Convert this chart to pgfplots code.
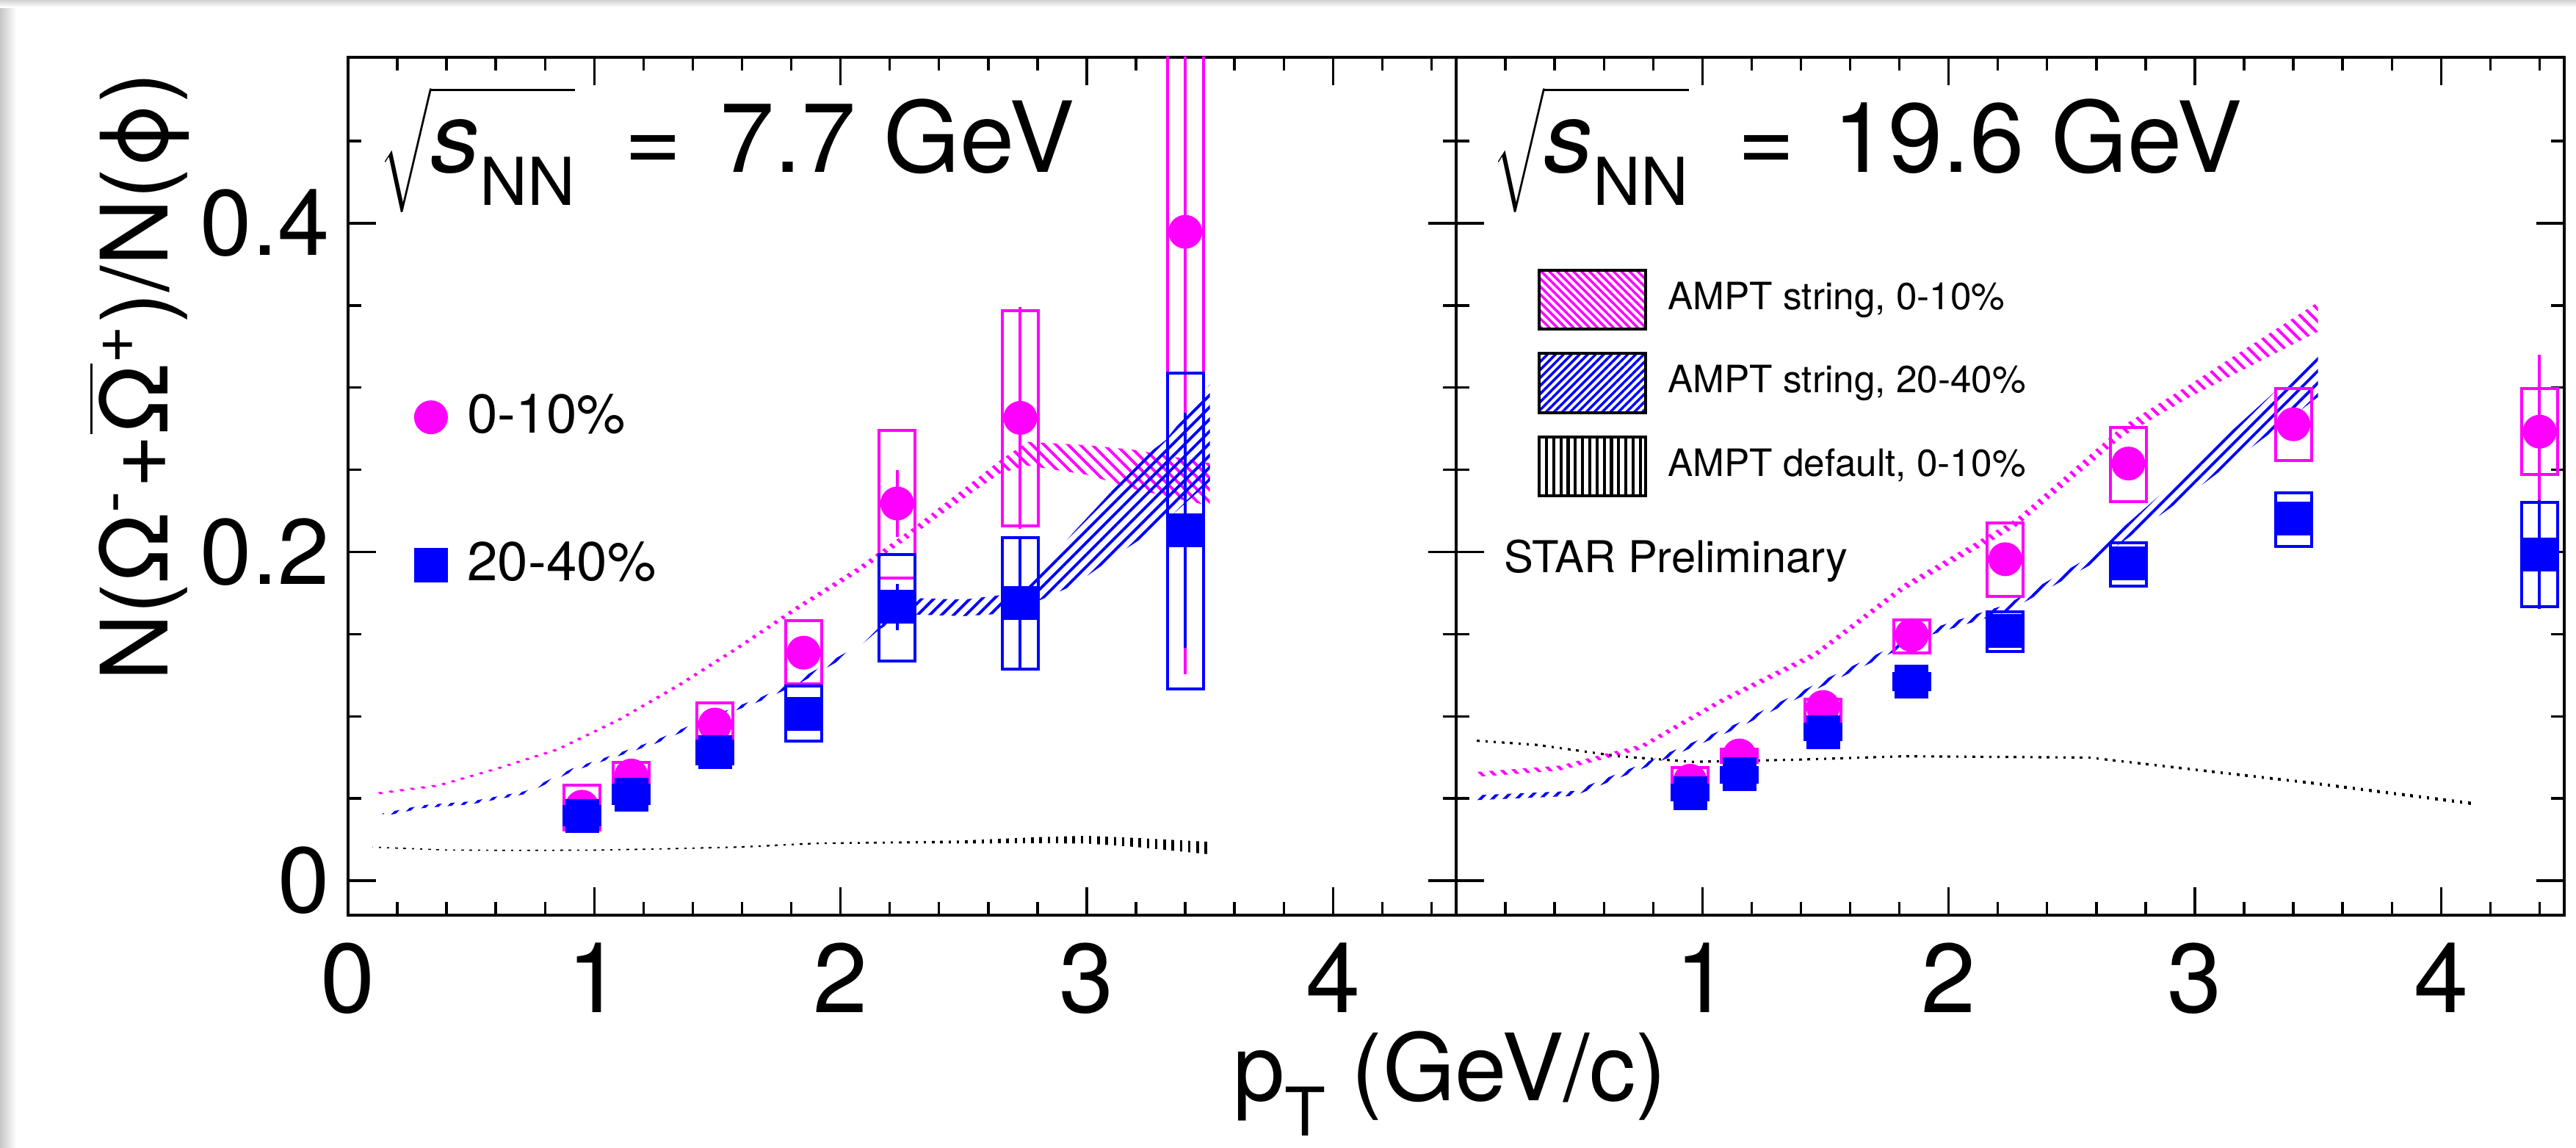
\documentclass[border=0pt]{standalone}
\usepackage{fix-cm}
\usepackage{fontspec}
\setmainfont{TeX Gyre Heros}
\usepackage{pgfplots}
\pgfplotsset{compat=1.18}
\usepgfplotslibrary{fillbetween}
\usetikzlibrary{patterns.meta}
\definecolor{mag}{RGB}{255,0,255}
\definecolor{blu}{RGB}{0,0,255}
\tikzset{
  hatchM/.style={pattern={Lines[angle=-45,distance=1.65pt,line width=0.55pt]},pattern color=mag},
  hatchB/.style={pattern={Lines[angle=45,distance=1.65pt,line width=0.55pt]},pattern color=blu},
  hatchK/.style={pattern={Lines[angle=90,distance=1.6pt,line width=0.5pt]},pattern color=black},
}
\newcommand{\sqrts}{$\sqrt{\mbox{\vphantom{N}\textit{s}\raisebox{-2.25mm}{\fontsize{12.8}{13}\selectfont NN}}}$}
\pgfplotsset{
  panel/.style={
    scale only axis, width=75.45mm, height=58.4mm,
    xmin=0, xmax=4.5, ymin=-0.021, ymax=0.501,
    axis line style={line width=0.2mm},
    tick align=inside, tick pos=both,
    major tick length=1.9mm, minor tick length=0.9mm,
    every tick/.append style={line width=0.17mm, black},
    xtick={0,1,2,3,4},
    minor xtick={0.2,0.4,0.6,0.8,1.2,1.4,1.6,1.8,2.2,2.4,2.6,2.8,3.2,3.4,3.6,3.8,4.2,4.4},
    ytick={0,0.2,0.4},
    minor ytick={0.05,0.1,0.15,0.25,0.3,0.35,0.45},
    /pgf/number format/assume math mode=true,
    xticklabel style={font=\fontsize{19}{19}\selectfont, inner sep=0pt, anchor=north},
    xticklabel shift=1.8mm,
    yticklabel style={font=\fontsize{18}{18}\selectfont, inner sep=0pt, anchor=east,
      /pgf/number format/fixed, /pgf/number format/precision=1},
    yticklabel shift=1.2mm,
    unbounded coords=jump,
  },
  sysbox/.style={line width=0.2mm, line join=miter, forget plot},
  pts/.style={only marks, mark size=1.08mm, forget plot,
    error bars/y dir=both, error bars/y explicit, error bars/error mark=none,
    error bars/error bar style={line width=0.2mm}},
}
\begin{document}
\begin{tikzpicture}
\shade[left color=gray!45, right color=white] (-23.7mm,-15.8mm) rectangle (-22.6mm,62.3mm);
\shade[top color=gray!35, bottom color=white] (-23.7mm,61.8mm) rectangle (151.7mm,62.3mm);

% ---------------- LEFT PANEL: 7.7 GeV ----------------
\begin{axis}[panel, at={(0,0)}, anchor=south west,
  xticklabels={0,1,2,3,4},
  ylabel={N(Ω\textsuperscript{-}+$\overline{\mbox{Ω}}$\textsuperscript{+})/N(ϕ)},
  every axis y label/.style={at={(axis description cs:-0.1629,0.9837)}, anchor=base east,
    rotate=90, inner sep=0pt, font=\fontsize{18}{18}\selectfont},
  xlabel={p\raisebox{-2.4mm}{\fontsize{13}{13}\selectfont T} (GeV/c)},
  every axis x label/.style={at={(axis description cs:0.798,-0.2158)}, anchor=base west,
    inner sep=0pt, font=\fontsize{18}{18}\selectfont},
  legend style={at={(axis description cs:0.0596,0.6087)}, anchor=north west, draw=none, fill=none,
    inner sep=0pt, row sep=6.9mm, column sep=1.4mm, font=\fontsize{10.6}{12}\selectfont,
    nodes={inner sep=0pt}},
  legend cell align=left,
  legend image code/.code={\draw[#1] plot coordinates {(0mm,0mm)};},
]
% AMPT string 0-10%
\addplot[name path=mlo, draw=none, forget plot] coordinates {
(0.11,0.0522)(0.37,0.0573)(0.61,0.0677)(0.85,0.0790)(1.10,0.0970)(1.34,0.1175)(1.58,0.1402)
(1.83,0.1650)(2.07,0.1872)(2.29,0.2098)(2.50,0.2325)(2.65,0.2480)(2.76,0.2526)(3.00,0.2470)(3.20,0.2380)(3.50,0.2280)};
\addplot[name path=mhi, draw=none, forget plot] coordinates {
(0.11,0.0536)(0.37,0.0587)(0.61,0.0691)(0.85,0.0806)(1.10,0.0988)(1.34,0.1197)(1.58,0.1426)
(1.83,0.1680)(2.07,0.1908)(2.29,0.2142)(2.50,0.2385)(2.65,0.2560)(2.76,0.2670)(3.00,0.2650)(3.20,0.2620)(3.50,0.2540)};
\addplot[hatchM, draw=none, forget plot] fill between[of=mlo and mhi];
% AMPT string 20-40%
\addplot[name path=blo, draw=none, forget plot] coordinates {
(0.14,0.0391)(0.30,0.0441)(0.50,0.0465)(0.72,0.0527)(0.91,0.0664)(1.07,0.0744)(1.25,0.0835)
(1.46,0.0971)(1.68,0.1096)(1.83,0.1198)(2.04,0.1378)(2.16,0.1532)(2.29,0.1620)(2.50,0.1610)
(2.72,0.1630)(2.77,0.1680)(2.95,0.1800)(3.12,0.1980)(3.25,0.2110)(3.32,0.2190)(3.50,0.2430)};
\addplot[name path=bhi, draw=none, forget plot] coordinates {
(0.14,0.0409)(0.30,0.0459)(0.50,0.0483)(0.72,0.0545)(0.91,0.0682)(1.07,0.0762)(1.25,0.0855)
(1.46,0.0991)(1.68,0.1118)(1.83,0.1224)(2.04,0.1404)(2.16,0.1565)(2.29,0.1720)(2.50,0.1710)
(2.72,0.1750)(2.77,0.1810)(2.95,0.2126)(3.12,0.2400)(3.25,0.2600)(3.32,0.2680)(3.50,0.3020)};
\addplot[hatchB, draw=none, forget plot] fill between[of=blo and bhi];
% AMPT default 0-10%
\addplot[name path=klo, draw=none, forget plot] coordinates {
(0.10,0.0200)(0.40,0.0183)(0.70,0.0180)(1.00,0.0182)(1.30,0.0190)(1.60,0.0200)(1.90,0.0222)
(2.20,0.0226)(2.50,0.0226)(2.80,0.0228)(3.00,0.0226)(3.20,0.0205)(3.50,0.0160)};
\addplot[name path=khi, draw=none, forget plot] coordinates {
(0.10,0.0208)(0.40,0.0190)(0.70,0.0188)(1.00,0.0190)(1.30,0.0198)(1.60,0.0210)(1.90,0.0232)
(2.20,0.0238)(2.50,0.0245)(2.80,0.0265)(3.00,0.0273)(3.20,0.0260)(3.50,0.0236)};
\addplot[hatchK, draw=none, forget plot] fill between[of=klo and khi];

% 0-10% systematic boxes
\addplot[sysbox, mag] coordinates {
(0.877,0.031)(1.023,0.031)(1.023,0.058)(0.877,0.058)(0.877,0.031)(1.023,0.031)(1,nan)
(1.077,0.056)(1.223,0.056)(1.223,0.072)(1.077,0.072)(1.077,0.056)(1.223,0.056)(1,nan)
(1.417,0.082)(1.563,0.082)(1.563,0.108)(1.417,0.108)(1.417,0.082)(1.563,0.082)(1,nan)
(1.777,0.120)(1.923,0.120)(1.923,0.158)(1.777,0.158)(1.777,0.120)(1.923,0.120)(1,nan)
(2.157,0.184)(2.303,0.184)(2.303,0.274)(2.157,0.274)(2.157,0.184)(2.303,0.184)(1,nan)
(2.657,0.216)(2.803,0.216)(2.803,0.347)(2.657,0.347)(2.657,0.216)(2.803,0.216)(1,nan)
(3.327,0.1165)(3.473,0.1165)(3.473,0.673)(3.327,0.673)(3.327,0.1165)(3.473,0.1165)};
\addplot[pts, mag, mark=*, mark options={fill=mag, draw=mag}] coordinates {
(0.95,0.045) +- (0,0.004)
(1.15,0.064) +- (0,0.004)
(1.49,0.095) +- (0,0.005)
(1.85,0.1387) +- (0,0.006)
(2.23,0.2295) +- (0,0.0205)
(2.73,0.2816) +- (0,0.0675)
(3.40,0.3948) +- (0,0.269)};
% 20-40% systematic boxes
\addplot[sysbox, blu] coordinates {
(0.877,0.034)(1.023,0.034)(1.023,0.045)(0.877,0.045)(0.877,0.034)(1.023,0.034)(1,nan)
(1.077,0.047)(1.223,0.047)(1.223,0.058)(1.077,0.058)(1.077,0.047)(1.223,0.047)(1,nan)
(1.417,0.071)(1.563,0.071)(1.563,0.085)(1.417,0.085)(1.417,0.071)(1.563,0.071)(1,nan)
(1.777,0.085)(1.923,0.085)(1.923,0.1186)(1.777,0.1186)(1.777,0.085)(1.923,0.085)(1,nan)
(2.157,0.1337)(2.303,0.1337)(2.303,0.1985)(2.157,0.1985)(2.157,0.1337)(2.303,0.1337)(1,nan)
(2.657,0.1287)(2.803,0.1287)(2.803,0.2085)(2.657,0.2085)(2.657,0.1287)(2.803,0.1287)(1,nan)
(3.327,0.1165)(3.473,0.1165)(3.473,0.3088)(3.327,0.3088)(3.327,0.1165)(3.473,0.1165)};
\addplot[pts, blu, mark=square*, mark options={fill=blu, draw=blu}] coordinates {
(0.95,0.0395) +- (0,0.003)
(1.15,0.0525) +- (0,0.003)
(1.49,0.078) +- (0,0.004)
(1.85,0.1015) +- (0,0.005)
(2.23,0.1665) +- (0,0.0142)
(2.73,0.169) +- (0,0.04)
(3.40,0.2133) +- (0,0.0715)};

\addlegendimage{only marks, mark=*, mag, mark options={fill=mag, draw=mag}, mark size=1.08mm}
\addlegendentry{0-10\%}
\addlegendimage{only marks, mark=square*, blu, mark options={fill=blu, draw=blu}, mark size=1.08mm}
\addlegendentry{20-40\%}

\node[anchor=base west, inner sep=0pt, font=\fontsize{19}{19}\selectfont]
  at (axis description cs:0.027,0.866) {\sqrts\hspace{1.5mm} =\hspace{0.75mm} 7.7 GeV};
\end{axis}

% ---------------- RIGHT PANEL: 19.6 GeV ----------------
\begin{axis}[panel, at={(75.45mm,0)}, anchor=south west,
  xticklabels={,1,2,3,4}, yticklabels={},
  legend style={at={(axis description cs:0.0728,0.7546)}, anchor=north west, draw=none, fill=none,
    inner sep=0pt, row sep=1.46mm, column sep=1.4mm, font=\fontsize{7.3}{8}\selectfont,
    nodes={inner sep=0pt}},
  legend cell align=left,
]
% AMPT string 0-10%
\addplot[name path=mlo, draw=none, forget plot] coordinates {
(0.08,0.0631)(0.42,0.0670)(0.75,0.0798)(1.08,0.1080)(1.46,0.1360)(1.82,0.1768)(2.27,0.2148)
(2.71,0.2706)(2.98,0.2943)(3.50,0.3341)};
\addplot[name path=mhi, draw=none, forget plot] coordinates {
(0.08,0.0661)(0.42,0.0700)(0.75,0.0828)(1.08,0.1112)(1.46,0.1396)(1.82,0.1808)(2.27,0.2198)
(2.71,0.2770)(2.98,0.3020)(3.50,0.3520)};
\addplot[hatchM, draw=none, forget plot] fill between[of=mlo and mhi];
% AMPT string 20-40%
\addplot[name path=blo, draw=none, forget plot] coordinates {
(0.08,0.0490)(0.48,0.0516)(0.78,0.0696)(1.14,0.0926)(1.52,0.1207)(1.91,0.1488)(2.24,0.1637)
(2.57,0.1917)(2.98,0.2353)(3.50,0.2943)};
\addplot[name path=bhi, draw=none, forget plot] coordinates {
(0.08,0.0520)(0.48,0.0546)(0.78,0.0726)(1.14,0.0956)(1.52,0.1241)(1.91,0.1524)(2.24,0.1683)
(2.57,0.1967)(2.98,0.2507)(3.50,0.3213)};
\addplot[hatchB, draw=none, forget plot] fill between[of=blo and bhi];
% AMPT default 0-10%
\addplot[name path=klo, draw=none, forget plot] coordinates {
(0.08,0.0845)(0.33,0.0819)(0.66,0.0750)(0.96,0.0716)(1.38,0.0729)(1.82,0.0750)(2.57,0.0742)
(3.02,0.0664)(3.47,0.0586)(4.14,0.0457)};
\addplot[name path=khi, draw=none, forget plot] coordinates {
(0.08,0.0859)(0.33,0.0833)(0.66,0.0764)(0.96,0.0730)(1.38,0.0743)(1.82,0.0764)(2.57,0.0756)
(3.02,0.0680)(3.47,0.0604)(4.14,0.0477)};
\addplot[hatchK, draw=none, forget plot] fill between[of=klo and khi];

% 0-10% systematic boxes
\addplot[sysbox, mag] coordinates {
(0.877,0.053)(1.023,0.053)(1.023,0.069)(0.877,0.069)(0.877,0.053)(1.023,0.053)(1,nan)
(1.077,0.072)(1.223,0.072)(1.223,0.080)(1.077,0.080)(1.077,0.072)(1.223,0.072)(1,nan)
(1.417,0.0962)(1.563,0.0962)(1.563,0.1103)(1.417,0.1103)(1.417,0.0962)(1.563,0.0962)(1,nan)
(1.777,0.1385)(1.923,0.1385)(1.923,0.1588)(1.777,0.1588)(1.777,0.1385)(1.923,0.1385)(1,nan)
(2.157,0.1729)(2.303,0.1729)(2.303,0.2178)(2.157,0.2178)(2.157,0.1729)(2.303,0.1729)(1,nan)
(2.657,0.2307)(2.803,0.2307)(2.803,0.2759)(2.657,0.2759)(2.657,0.2307)(2.803,0.2307)(1,nan)
(3.327,0.2558)(3.473,0.2558)(3.473,0.2995)(3.327,0.2995)(3.327,0.2558)(3.473,0.2558)(1,nan)
(4.327,0.2471)(4.473,0.2471)(4.473,0.2993)(4.327,0.2993)(4.327,0.2471)(4.473,0.2471)};
\addplot[pts, mag, mark=*, mark options={fill=mag, draw=mag}] coordinates {
(0.95,0.0608) +- (0,0.003)
(1.15,0.0762) +- (0,0.003)
(1.49,0.1057) +- (0,0.004)
(1.85,0.1494) +- (0,0.005)
(2.23,0.1956) +- (0,0.006)
(2.73,0.2538) +- (0,0.007)
(3.40,0.2777) +- (0,0.010)
(4.40,0.2732) +- (0,0.047)};
% 20-40% systematic boxes
\addplot[sysbox, blu] coordinates {
(0.877,0.049)(1.023,0.049)(1.023,0.058)(0.877,0.058)(0.877,0.049)(1.023,0.049)(1,nan)
(1.077,0.060)(1.223,0.060)(1.223,0.069)(1.077,0.069)(1.077,0.060)(1.223,0.060)(1,nan)
(1.417,0.086)(1.563,0.086)(1.563,0.095)(1.417,0.095)(1.417,0.086)(1.563,0.086)(1,nan)
(1.777,0.116)(1.923,0.116)(1.923,0.126)(1.777,0.126)(1.777,0.116)(1.923,0.116)(1,nan)
(2.157,0.1393)(2.303,0.1393)(2.303,0.1637)(2.157,0.1637)(2.157,0.1393)(2.303,0.1393)(1,nan)
(2.657,0.1790)(2.803,0.1790)(2.803,0.2058)(2.657,0.2058)(2.657,0.1790)(2.803,0.1790)(1,nan)
(3.327,0.2032)(3.473,0.2032)(3.473,0.2358)(3.327,0.2358)(3.327,0.2032)(3.473,0.2032)(1,nan)
(4.327,0.1667)(4.473,0.1667)(4.473,0.2300)(4.327,0.2300)(4.327,0.1667)(4.473,0.1667)};
\addplot[pts, blu, mark=square*, mark options={fill=blu, draw=blu}] coordinates {
(0.95,0.0532) +- (0,0.003)
(1.15,0.0646) +- (0,0.003)
(1.49,0.0903) +- (0,0.003)
(1.85,0.1211) +- (0,0.004)
(2.23,0.1519) +- (0,0.005)
(2.73,0.1929) +- (0,0.006)
(3.40,0.2204) +- (0,0.008)
(4.40,0.1983) +- (0,0.033)};

\addlegendimage{legend image code/.code={\draw[line width=0.2mm, pattern={Lines[angle=-45,distance=1.1pt,line width=0.5pt]}, pattern color=mag] (0mm,-2.015mm) rectangle (7.25mm,2.015mm);}}
\addlegendentry{AMPT string, 0-10\%}
\addlegendimage{legend image code/.code={\draw[line width=0.2mm, pattern={Lines[angle=45,distance=1.1pt,line width=0.5pt]}, pattern color=blu] (0mm,-2.015mm) rectangle (7.25mm,2.015mm);}}
\addlegendentry{AMPT string, 20-40\%}
\addlegendimage{legend image code/.code={\draw[line width=0.2mm, pattern={Lines[angle=90,distance=1.4pt,line width=0.6pt]}, pattern color=black] (0mm,-2.015mm) rectangle (7.25mm,2.015mm);}}
\addlegendentry{AMPT default, 0-10\%}

\node[anchor=base west, inner sep=0pt, font=\fontsize{19}{19}\selectfont]
  at (axis description cs:0.032,0.866) {\sqrts\hspace{1.5mm} =\hspace{0.75mm} 19.6 GeV};
\node[anchor=base west, inner sep=0pt, font=\fontsize{8.5}{9}\selectfont]
  at (axis description cs:0.0425,0.3998) {STAR Preliminary};
\end{axis}
\pgfresetboundingbox
\path[use as bounding box] (-23.7mm,-15.8mm) rectangle (151.7mm,62.3mm);
\end{tikzpicture}
\end{document}
